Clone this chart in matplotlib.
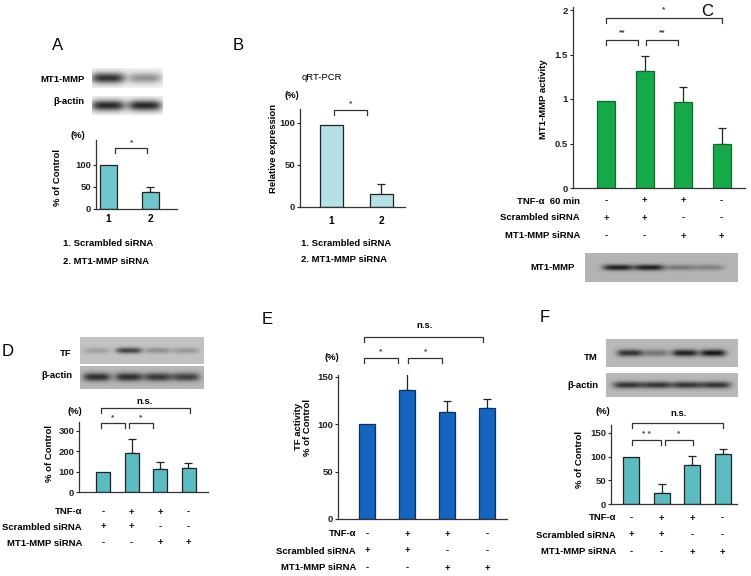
import numpy as np
import matplotlib
matplotlib.use("Agg")
import matplotlib.pyplot as plt
from matplotlib.transforms import Affine2D, blended_transform_factory

plt.rcParams["font.family"] = ["Liberation Sans", "DejaVu Sans"]
plt.rcParams["font.weight"] = "bold"

# ── Data ──────────────────────────────────────────────────────────────────────

A_vals = [100, 38]
A_err = [0, 11]
B_vals = [98, 16]
B_err = [0, 11]
C_vals = [0.98, 1.31, 0.97, 0.49]
C_err = [0, 0.17, 0.16, 0.18]
D_vals = [100, 190, 112, 120]
D_err = [0, 70, 38, 25]
E_vals = [100, 136, 113, 117]
E_err = [0, 20, 12, 10]
F_vals = [99, 23, 83, 106]
F_err = [0, 19, 19, 10]

TNF = ["-", "+", "+", "-"]
SCR = ["+", "+", "-", "-"]
MT1 = ["-", "-", "+", "+"]

# band strength per lane for the blots
blot_A_mt1 = [0.9, 0.45]
blot_A_actin = [0.95, 0.95]
blot_C_mt1 = [0.9, 0.9, 0.35, 0.3]
blot_D_tf = [0.2, 0.75, 0.3, 0.25]
blot_D_actin = [0.85, 0.85, 0.8, 0.75]
blot_F_tm = [0.8, 0.4, 0.9, 0.95]
blot_F_actin = [0.8, 0.8, 0.8, 0.8]

# ── Figure helpers (pixel layout) ─────────────────────────────────────────────

W, H = 751, 576
fig = plt.figure(figsize=(W / 100, H / 100), dpi=100)
PX = Affine2D().scale(1 / W, -1 / H).translate(0, 1) + fig.transFigure
FS = 6.8
EDGE = "#222222"


def px_axes(x0, y0, x1, y1):
    return fig.add_axes([x0 / W, 1 - y1 / H, (x1 - x0) / W, (y1 - y0) / H])


def ftext(x, y, s, **kw):
    kw.setdefault("fontsize", FS)
    kw.setdefault("fontweight", "bold")
    fig.text(x, y, s, transform=PX, **kw)


def bar_panel(box, c0, step, bw, vals, errs, color, ref_px, ref_val, yticks,
              ticklabels=None, edge=EDGE):
    x0, y0, x1, y1 = box
    ax = px_axes(x0, y0, x1, y1)
    scale = (y1 - ref_px) / ref_val
    ax.set_xlim((x0 - c0) / step, (x1 - c0) / step)
    ax.set_ylim(0, (y1 - y0) / scale)
    pos = np.arange(len(vals))
    ax.bar(pos, vals, width=bw / step, color=color, edgecolor=edge,
           linewidth=0.9, zorder=2)
    for p, v, e in zip(pos, vals, errs):
        if e > 0:
            ax.errorbar(p, v, yerr=[[0], [e]], fmt="none", ecolor=EDGE,
                        elinewidth=0.9, capsize=2.6, capthick=0.9, zorder=1)
    for s in ["top", "right"]:
        ax.spines[s].set_visible(False)
    for s in ["left", "bottom"]:
        ax.spines[s].set_color("#333333")
        ax.spines[s].set_linewidth(0.9)
    ax.set_xticks([])
    ax.set_yticks(yticks)
    ax.set_yticklabels(ticklabels if ticklabels else [str(t) for t in yticks],
                       fontsize=FS, fontweight="bold")
    ax.tick_params(axis="y", length=2, width=0.8, pad=1.5, colors="#222222")
    ax.patch.set_alpha(0)
    return ax


def bracket(ax, xa, xb, y, label, ly, drop=5, fs=6):
    tr = blended_transform_factory(ax.transData, PX)
    ax.plot([xa, xa, xb, xb], [y + drop, y, y, y + drop], color="#333333",
            lw=0.9, transform=tr, clip_on=False)
    ax.text((xa + xb) / 2, ly, label, transform=tr, ha="center", va="center",
            fontsize=fs, fontweight="bold", color="#444444")


def sign_rows(ax, names, rows, x_right, ys):
    tr = blended_transform_factory(ax.transData, PX)
    for name, row, y in zip(names, rows, ys):
        ftext(x_right, y, name, ha="right", va="center")
        for i, s in enumerate(row):
            ax.text(i, y, s, transform=tr, ha="center", va="center",
                    fontsize=FS, fontweight="bold")


def blot(box, lanes, levels, bg, dark, band_w, band_h):
    x0, y0, x1, y1 = box
    ax = px_axes(x0, y0, x1, y1)
    xx = np.arange(x0, x1) + 0.5
    yy = np.arange(y0, y1) + 0.5
    X, Y = np.meshgrid(xx, yy)
    yc = (y0 + y1) / 2
    img = np.zeros_like(X, dtype=float)
    for lx, lv in zip(lanes, levels):
        img += lv * np.exp(-((X - lx) / (band_w / 2)) ** 4
                           - ((Y - yc) / (band_h / 2)) ** 2)
    img = np.clip(img, 0, 1)
    shade = bg - (bg - dark) * img
    ax.imshow(shade, cmap="gray", vmin=0, vmax=1, aspect="auto",
              interpolation="bilinear")
    ax.axis("off")
    return ax


# ── Panel A ───────────────────────────────────────────────────────────────────

ftext(58, 46, "A", fontsize=12, fontweight="normal", ha="center", va="center")
blot((92, 68, 163, 88), [108, 145], blot_A_mt1, 0.95, 0.12, 34, 11)
blot((92, 96, 163, 115), [108, 145], blot_A_actin, 0.95, 0.12, 34, 11)
ftext(85, 79, "MT1-MMP", ha="right", va="center")
ftext(85, 102, "β-actin", ha="right", va="center")
axA = bar_panel((96, 140, 177, 209), 108.5, 41.5, 17, A_vals, A_err,
                "#6ec5ca", 165, 100, [0, 50, 100])
ftext(78, 136, "(%)", ha="center", va="center")
ftext(57, 177, "% of Control", rotation=90, ha="center", va="center")
bracket(axA, 0.16, 0.93, 148, "*", 143)
trA = blended_transform_factory(axA.transData, PX)
for i, lab in enumerate(["1", "2"]):
    axA.text(i, 219, lab, transform=trA, ha="center", va="center",
             fontsize=FS + 0.5, fontweight="bold")
ftext(63, 243, "1. Scrambled siRNA", ha="left", va="center")
ftext(63, 261, "2. MT1-MMP siRNA", ha="left", va="center")

# ── Panel B ───────────────────────────────────────────────────────────────────

ftext(238, 46, "B", fontsize=12, fontweight="normal", ha="center", va="center")
ftext(322, 78, "qRT-PCR", ha="center", va="center", fontweight="normal")
axB = bar_panel((300, 109, 405, 207), 331.5, 49.5, 23, B_vals, B_err,
                "#b4e1e6", 123, 100, [0, 50, 100])
ftext(292, 95, "(%)", ha="center", va="center")
ftext(273, 148, "Relative expression", rotation=90, ha="center", va="center")
bracket(axB, 0.05, 0.72, 110, "*", 104)
trB = blended_transform_factory(axB.transData, PX)
for i, lab in enumerate(["1", "2"]):
    axB.text(i, 221, lab, transform=trB, ha="center", va="center",
             fontsize=FS + 0.5, fontweight="bold")
ftext(301, 243, "1. Scrambled siRNA", ha="left", va="center")
ftext(301, 260, "2. MT1-MMP siRNA", ha="left", va="center")

# ── Panel C ───────────────────────────────────────────────────────────────────

ftext(707, 12, "C", fontsize=12, fontweight="normal", ha="center", va="center")
axC = bar_panel((573, 7, 745, 188), 606, 38.5, 18, C_vals, C_err,
                "#15a94a", 99, 1.0, [0, 0.5, 1, 1.5, 2],
                ["0", "0.5", "1", "1.5", "2"], edge="#0d6b2c")
ftext(543, 99, "MT1-MMP activity", rotation=90, ha="center", va="center")
bracket(axC, 0, 3, 18, "*", 10)
bracket(axC, 0, 0.83, 40, "**", 33)
bracket(axC, 1.04, 1.87, 40, "**", 33)
sign_rows(axC, ["TNF-α  60 min", "Scrambled siRNA", "MT1-MMP siRNA"],
          [TNF, SCR, MT1], 580, [201, 218, 236])
blot((585, 253, 738, 282), [618, 649, 680, 709], blot_C_mt1, 0.70, 0.06, 30, 6)
ftext(575, 268, "MT1-MMP", ha="right", va="center")

# ── Panel D ───────────────────────────────────────────────────────────────────

ftext(8, 352, "D", fontsize=12, fontweight="normal", ha="center", va="center")
blot((80, 337, 204, 364), [97, 129, 158, 186], blot_D_tf, 0.76, 0.1, 26, 6)
blot((80, 366, 204, 389), [97, 129, 158, 186], blot_D_actin, 0.72, 0.08, 28, 8)
ftext(72, 353, "TF", ha="right", va="center")
ftext(72, 375, "β-actin", ha="right", va="center")
axD = bar_panel((79, 422, 208, 492), 103, 28.5, 14, D_vals, D_err,
                "#5bbcc2", 431, 300, [0, 100, 200, 300])
ftext(75, 411, "(%)", ha="center", va="center")
ftext(50, 453, "% of Control", rotation=90, ha="center", va="center")
bracket(axD, -0.07, 3.05, 408, "", 401)
ftext(145, 401, "n.s.", ha="center", va="center")
bracket(axD, -0.07, 0.77, 423, "*", 418)
bracket(axD, 0.91, 1.75, 423, "*", 418)
sign_rows(axD, ["TNF-α", "Scrambled siRNA", "MT1-MMP siRNA"],
          [TNF, SCR, MT1], 82, [512, 527, 543])

# ── Panel E ───────────────────────────────────────────────────────────────────

ftext(267, 320, "E", fontsize=12, fontweight="normal", ha="center", va="center")
axE = bar_panel((338, 375, 507, 519), 367, 40, 16, E_vals, E_err,
                "#1565c0", 377, 150, [0, 50, 100, 150], edge="#0b2f66")
ftext(332, 358, "(%)", ha="center", va="center")
ftext(303, 427, "TF activity\n% of Control", rotation=90, ha="center",
      va="center", linespacing=1.1)
bracket(axE, -0.08, 2.9, 337, "", 326)
ftext(425, 326, "n.s.", ha="center", va="center")
bracket(axE, -0.08, 0.78, 358, "*", 352)
bracket(axE, 1.03, 1.88, 358, "*", 352)
sign_rows(axE, ["TNF-α", "Scrambled siRNA", "MT1-MMP siRNA"],
          [TNF, SCR, MT1], 356, [534, 551, 568])

# ── Panel F ───────────────────────────────────────────────────────────────────

ftext(545, 318, "F", fontsize=12, fontweight="normal", ha="center", va="center")
blot((606, 339, 738, 367), [630, 656, 685, 713], blot_F_tm, 0.72, 0.06, 26, 7)
blot((606, 373, 738, 397), [628, 657, 687, 716], blot_F_actin, 0.72, 0.08, 30, 7)
ftext(598, 357, "TM", ha="right", va="center")
ftext(598, 385, "β-actin", ha="right", va="center")
axF = bar_panel((611, 425, 737, 504), 631, 30.5, 16, F_vals, F_err,
                "#5cbcc2", 433, 150, [0, 50, 100, 150])
ftext(603, 412, "(%)", ha="center", va="center")
ftext(580, 460, "% of Control", rotation=90, ha="center", va="center")
bracket(axF, 0.03, 3.02, 423, "", 413)
ftext(679, 413, "n.s.", ha="center", va="center")
bracket(axF, 0.03, 0.98, 440, "* *", 434)
bracket(axF, 1.11, 2.03, 440, "*", 434)
sign_rows(axF, ["TNF-α", "Scrambled siRNA", "MT1-MMP siRNA"],
          [TNF, SCR, MT1], 616, [518, 535, 552])

fig.savefig("out.png", dpi=100)
plt.close(fig)
